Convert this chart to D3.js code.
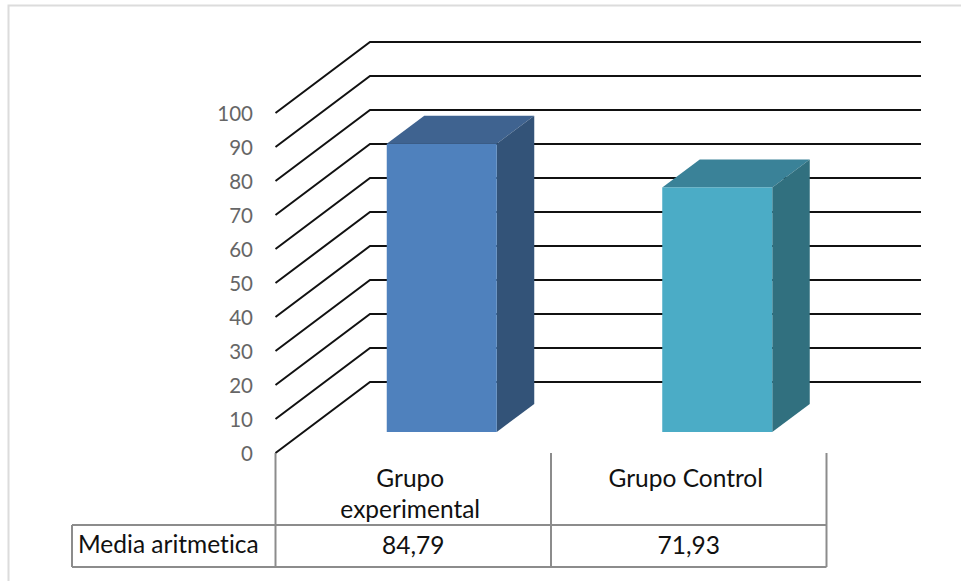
<!DOCTYPE html>
<html>
<head>
<meta charset="utf-8">
<script src="https://cdn.jsdelivr.net/npm/d3@7"></script>
<style>
  html, body { margin: 0; padding: 0; background: #fff; }
  svg { display: block; }
  text { font-family: Lato, "Open Sans", sans-serif; font-variant-ligatures: none; }
</style>
</head>
<body>
<div id="chart"></div>
<script>
"use strict";

const categories = ["Grupo experimental", "Grupo Control"];
const categoryLines = [["Grupo", "experimental"], ["Grupo Control"]];
const values = [84.79, 71.93];
const valueLabels = ["84,79", "71,93"];
const rowLabel = "Media aritmetica";
const ticks = [0, 10, 20, 30, 40, 50, 60, 70, 80, 90, 100];

const frontColors = ["#4f81bd", "#4bacc6"];
const topColors = ["#3f6390", "#3a8298"];
const sideColors = ["#335378", "#31707f"];

const width = 961;
const height = 582;

const svg = d3
  .select("#chart")
  .append("svg")
  .attr("width", width)
  .attr("height", height);

// marco del grafico (solo arriba e izquierda)
svg
  .append("path")
  .attr("d", `M8.5,581 V5.5 H${width}`)
  .attr("fill", "none")
  .attr("stroke", "#dcdcdc")
  .attr("stroke-width", 2);

const y = d3.scaleLinear().domain([0, 100]).range([453, 113]);
const x = d3.scaleBand().domain(categories).range([275.5, 826.5]);

// profundidad de la pared del fondo y de las barras
const wallDx = 94.5;
const wallDy = -71;
const wallRight = 921;
const barDx = 28.5;
const barDy = -21;
const barWidth = 110;
const depthX = 37.5;
const depthY = -28;

// lineas de la cuadricula
svg
  .append("g")
  .selectAll("path")
  .data(ticks)
  .join("path")
  .attr(
    "d",
    (d) =>
      `M${x.range()[0]},${y(d)} L${x.range()[0] + wallDx},${y(d) + wallDy} H${wallRight}`
  )
  .attr("fill", "none")
  .attr("stroke", "#111")
  .attr("stroke-width", 2);

// etiquetas del eje
svg
  .append("g")
  .selectAll("text")
  .data(ticks)
  .join("text")
  .attr("x", 253)
  .attr("y", (d) => y(d) + 1)
  .attr("dy", "0.35em")
  .attr("text-anchor", "end")
  .attr("fill", "#666")
  .style("font-size", "20.5px")
  .text((d) => d);

// barras en 3D
const bars = svg
  .append("g")
  .selectAll("g")
  .data(categories)
  .join("g")
  .attr("transform", (d) => {
    const left = x(d) + x.bandwidth() / 2 - barWidth / 2 + barDx;
    return `translate(${left},${barDy})`;
  });

bars
  .append("path")
  .attr("fill", (d, i) => topColors[i])
  .attr(
    "d",
    (d, i) =>
      `M0,${y(values[i])} l${depthX},${depthY} h${barWidth} l${-depthX},${-depthY} Z`
  );

bars
  .append("path")
  .attr("fill", (d, i) => sideColors[i])
  .attr(
    "d",
    (d, i) =>
      `M${barWidth},${y(values[i])} l${depthX},${depthY} V${y(0) + depthY} L${barWidth},${y(0)} Z`
  );

bars
  .append("rect")
  .attr("x", 0)
  .attr("y", (d, i) => y(values[i]))
  .attr("width", barWidth)
  .attr("height", (d, i) => y(0) - y(values[i]))
  .attr("fill", (d, i) => frontColors[i]);

// tabla de datos
const tableTop = 525;
const tableBottom = 567;
const tableLeft = 72;
const table = svg
  .append("g")
  .attr("fill", "none")
  .attr("stroke", "#8c8c8c")
  .attr("stroke-width", 2);

table
  .append("path")
  .attr(
    "d",
    `M${tableLeft},${tableTop} H${x.range()[1]} M${tableLeft},${tableBottom} H${x.range()[1]} M${tableLeft},${tableTop} V${tableBottom}`
  );

table
  .selectAll("line")
  .data([...categories.map((d) => x(d)), x.range()[1]])
  .join("line")
  .attr("x1", (d) => d)
  .attr("x2", (d) => d)
  .attr("y1", y(0))
  .attr("y2", tableBottom);

const categoryText = svg
  .append("g")
  .selectAll("text")
  .data(categories)
  .join("text")
  .attr("text-anchor", "middle")
  .attr("fill", "#111")
  .style("font-size", "24.5px");

categoryText
  .selectAll("tspan")
  .data((d, i) => categoryLines[i].map((line) => ({ line, cat: d })))
  .join("tspan")
  .attr("x", (d) => x(d.cat) + x.bandwidth() / 2 - 3)
  .attr("y", (d, i) => 487 + i * 31)
  .text((d) => d.line);

svg
  .append("g")
  .selectAll("text")
  .data(categories)
  .join("text")
  .attr("x", (d) => x(d) + x.bandwidth() / 2)
  .attr("y", 554)
  .attr("text-anchor", "middle")
  .attr("fill", "#111")
  .style("font-size", "24.5px")
  .text((d, i) => valueLabels[i]);

svg
  .append("text")
  .attr("x", 78)
  .attr("y", 553)
  .attr("fill", "#111")
  .style("font-size", "24.5px")
  .text(rowLabel);
</script>
</body>
</html>
